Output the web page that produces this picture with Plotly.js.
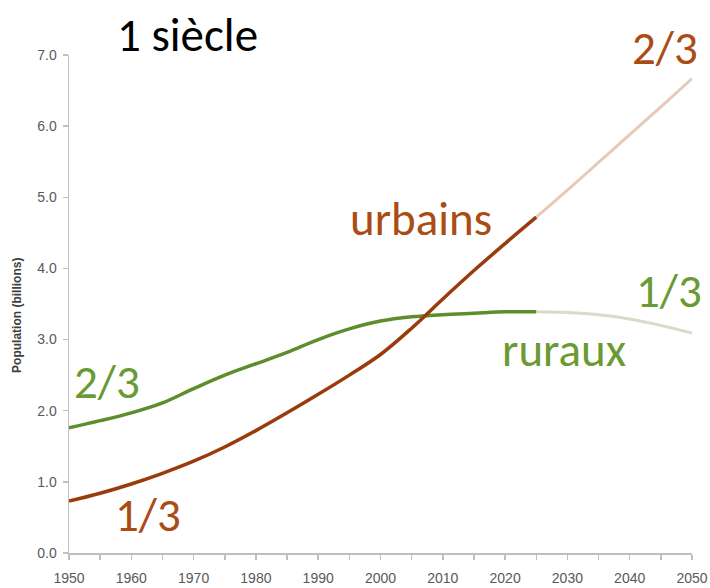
<!DOCTYPE html>
<html>
<head>
<meta charset="utf-8">
<script src="https://cdn.plot.ly/plotly-3.0.1.min.js"></script>
<style>html,body{margin:0;padding:0;background:#fff;}#chart{width:710px;height:588px;}</style>
</head>
<body>
<div id="chart"></div>
<script>
// Historical period (solid lines)
var yearsHist = [1950, 1955, 1960, 1965, 1970, 1975, 1980, 1985, 1990, 1995, 2000, 2005, 2010, 2015, 2020, 2025];
var urbanHist = [0.73, 0.84, 0.97, 1.12, 1.29, 1.49, 1.72, 1.97, 2.23, 2.50, 2.79, 3.16, 3.57, 3.97, 4.35, 4.72];
var ruralHist = [1.76, 1.86, 1.97, 2.11, 2.31, 2.50, 2.66, 2.82, 3.00, 3.15, 3.26, 3.32, 3.35, 3.37, 3.39, 3.39];

// Projection period (faded lines)
var yearsProj = [2025, 2030, 2035, 2040, 2045, 2050];
var urbanProj = [4.72, 5.10, 5.49, 5.88, 6.27, 6.67];
var ruralProj = [3.39, 3.38, 3.35, 3.29, 3.20, 3.09];

// Axis ticks
var yTickVals = [0, 1, 2, 3, 4, 5, 6, 7];
var yTickText = ["0.0", "1.0", "2.0", "3.0", "4.0", "5.0", "6.0", "7.0"];
var xTickVals = [1950, 1960, 1970, 1980, 1990, 2000, 2010, 2020, 2030, 2040, 2050];

var brown = "#9A3B0C", brownLight = "#E6C9B6", brownText = "#AA4C14";
var green = "#5E8E2B", greenLight = "#D4DDC6", greenText = "#6A9A33";
var bigFont = "Carlito, Lato, 'Open Sans', sans-serif";
var tickFont = {family: "'Liberation Sans Narrow', 'Arial Narrow', 'Liberation Sans', sans-serif", size: 14, color: "#595959"};

var traces = [
  {x: yearsProj, y: urbanProj, mode: "lines", line: {color: brownLight, width: 3, shape: "spline"}, hoverinfo: "skip"},
  {x: yearsProj, y: ruralProj, mode: "lines", line: {color: greenLight, width: 3, shape: "spline"}, hoverinfo: "skip"},
  {x: yearsHist, y: ruralHist, mode: "lines", line: {color: green, width: 3.5, shape: "spline"}, name: "ruraux"},
  {x: yearsHist, y: urbanHist, mode: "lines", line: {color: brown, width: 3.5, shape: "spline"}, name: "urbains"}
];

function lab(text, x, y, color, ref) {
  return {text: text, x: x, y: y, xref: ref ? "paper" : "x", yref: ref ? "paper" : "y", showarrow: false,
          font: {family: bigFont, size: 47, color: color}, xanchor: "center", yanchor: "middle"};
}

var layout = {
  width: 710, height: 588,
  paper_bgcolor: "#ffffff", plot_bgcolor: "#ffffff",
  showlegend: false,
  margin: {l: 69, r: 18, t: 55, b: 35},
  xaxis: {
    range: [1950, 2050], tickvals: xTickVals, ticktext: xTickVals.map(String),
    showgrid: false, zeroline: false, showline: true, linecolor: "#BFBFBF", linewidth: 1.5,
    ticks: "outside", ticklen: 5, tickcolor: "#BFBFBF", tickwidth: 1.5,
    minor: {dtick: 5, tick0: 1950, ticks: "outside", ticklen: 5, tickcolor: "#BFBFBF", tickwidth: 1.5, showgrid: false},
    tickfont: tickFont,
    ticklabelstandoff: 7
  },
  yaxis: {
    range: [0, 7], tickvals: yTickVals, ticktext: yTickText,
    showgrid: false, zeroline: false, showline: true, linecolor: "#BFBFBF", linewidth: 1.5,
    ticks: "outside", ticklen: 5, tickcolor: "#BFBFBF", tickwidth: 1.5,
    tickfont: tickFont,
    ticklabelstandoff: 3
  },
  annotations: [
    {text: "<b>Population (billions)</b>", x: -0.0835, y: 0.478, xref: "paper", yref: "paper",
     showarrow: false, textangle: -90, xanchor: "center", yanchor: "middle",
     font: {family: "'Liberation Sans', Arial, sans-serif", size: 12, color: "#404040"}},
    {text: "1 siècle", x: 0.191, y: 1.040, xref: "paper", yref: "paper", showarrow: false,
     xanchor: "center", yanchor: "middle",
     font: {family: bigFont, size: 47, color: "#000000"}},
    lab("2/3", 0.957, 1.014, brownText, true),
    lab("urbains", 2006.5, 4.69, brownText),
    lab("1/3", 1962.7, 0.535, brownText),
    lab("ruraux", 2029.5, 2.86, greenText),
    lab("1/3", 2046.3, 3.68, greenText),
    lab("2/3", 1956.1, 2.41, greenText)
  ]
};

Plotly.newPlot("chart", traces, layout, {displayModeBar: false, staticPlot: true});
</script>
</body>
</html>
